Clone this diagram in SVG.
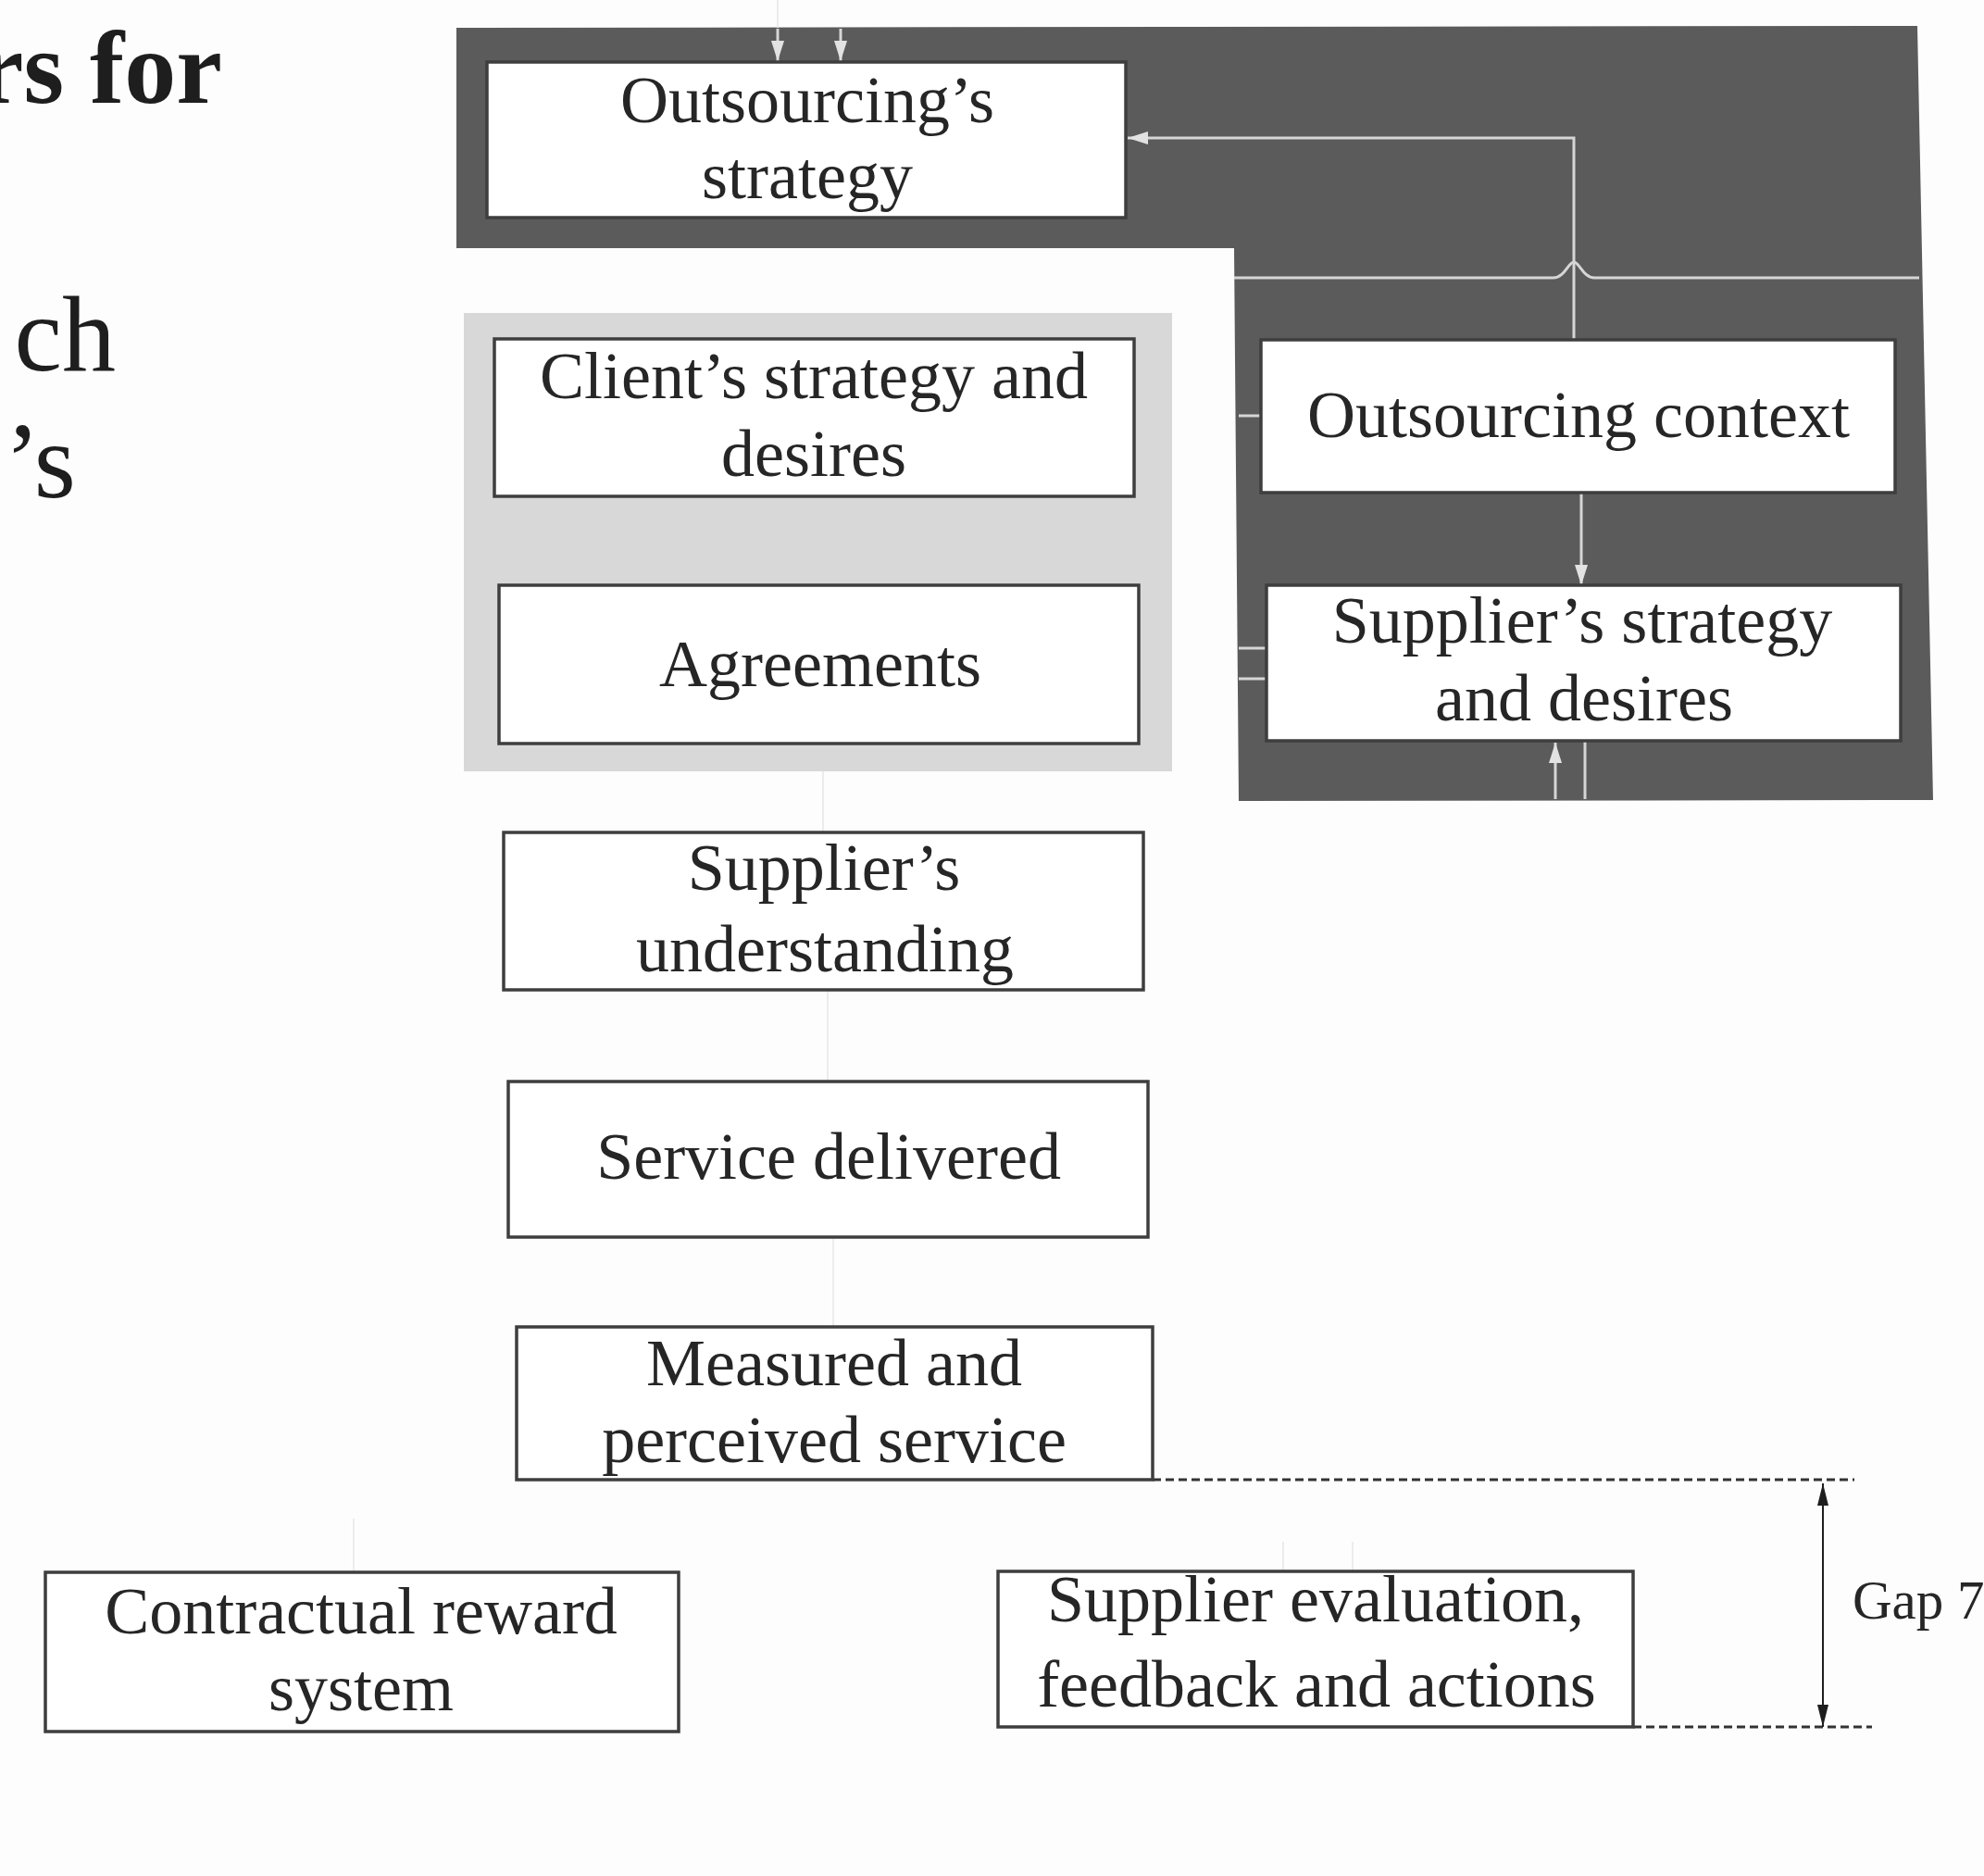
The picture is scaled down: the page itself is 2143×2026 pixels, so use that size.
<svg xmlns="http://www.w3.org/2000/svg" width="2143" height="2026" viewBox="0 0 2143 2026">
<defs>
<style>
.hd{font-family:"Liberation Serif","Times New Roman",serif;fill:#1e1e1e}
.lbl{font-family:"Liberation Serif","Times New Roman",serif;font-size:72px;fill:#262626;text-anchor:middle}
.gap{font-family:"Liberation Serif","Times New Roman",serif;font-size:59px;fill:#262626;text-anchor:start}
.box{fill:#ffffff;stroke:#3e3e3e;stroke-width:3.5}
.wl{fill:none;stroke:#d6d6d6;stroke-width:3}
.fl{fill:none;stroke:#ececec;stroke-width:2}
.dash{fill:none;stroke:#333333;stroke-width:3;stroke-dasharray:9 5}
</style>
<marker id="wa" markerUnits="userSpaceOnUse" markerWidth="24" markerHeight="16" refX="22" refY="8" orient="auto">
<path d="M0,1 L22,8 L0,15 z" fill="#e2e2e2"/>
</marker>
<marker id="ba" markerUnits="userSpaceOnUse" markerWidth="26" markerHeight="16" refX="24" refY="8" orient="auto-start-reverse">
<path d="M0,2 L24,8 L0,14 z" fill="#1e1e1e"/>
</marker>
</defs>
<rect x="0" y="0" width="2143" height="2026" fill="#fdfdfd"/>

<g id="heading">
<text class="hd" x="240" y="111" font-size="112" font-weight="bold" text-anchor="end">rs for</text>
<text class="hd" x="125" y="400" font-size="116" text-anchor="end">ch</text>
<text class="hd" x="82" y="537" font-size="116" text-anchor="end">’s</text>
</g>

<g id="backgrounds">
<polygon id="context-area" points="493,30 2071,28 2088,864 1338,865 1333,268 493,268" fill="#5b5b5b"/>
<rect id="client-area" x="501" y="338" width="765" height="495" fill="#d8d8d8"/>
</g>

<g id="connectors">
<path class="fl" d="M840,0 V30"/>
<path class="wl" d="M840,31 V66" marker-end="url(#wa)"/>
<path class="wl" d="M908,31 V66" marker-end="url(#wa)"/>
<path class="wl" d="M1700,367 V149 H1218" marker-end="url(#wa)"/>
<path class="wl" d="M1333,300 H1678 C1690,300 1694,283 1700,283 C1706,283 1710,300 1722,300 H2073"/>
<path class="wl" d="M1708,532 V632" marker-end="url(#wa)"/>
<path class="wl" d="M1680,863 V802" marker-end="url(#wa)"/>
<path class="wl" d="M1712,800 V863"/>
<path class="wl" d="M1338,449 H1362"/>
<path class="wl" d="M1338,700 H1368"/>
<path class="wl" d="M1338,733 H1368" stroke-width="5"/>
<path class="fl" d="M889,833 V898"/>
<path class="fl" d="M894,1070 V1168"/>
<path class="fl" d="M900,1336 V1432"/>
<path class="fl" d="M382,1640 V1698"/>
<path class="fl" d="M1386,1665 V1697"/>
<path class="fl" d="M1461,1665 V1697"/>
<path class="dash" d="M1245,1598 H2003"/>
<path class="dash" d="M1764,1865 H2022"/>
<path d="M1969,1602 V1865" fill="none" stroke="#1e1e1e" stroke-width="2" marker-start="url(#ba)" marker-end="url(#ba)"/>
<text class="gap" x="2001" y="1748">Gap 7</text>
</g>

<g id="outsourcing-strategy">
<rect class="box" x="526" y="67" width="690" height="168"/>
<text class="lbl" x="872" y="132">Outsourcing’s</text>
<text class="lbl" x="872" y="214">strategy</text>
</g>

<g id="client-strategy">
<rect class="box" x="534" y="366" width="691" height="170"/>
<text class="lbl" x="879" y="430">Client’s strategy and</text>
<text class="lbl" x="879" y="514">desires</text>
</g>

<g id="agreements">
<rect class="box" x="539" y="632" width="691" height="171"/>
<text class="lbl" x="886" y="741">Agreements</text>
</g>

<g id="outsourcing-context">
<rect class="box" x="1362" y="367" width="685" height="165"/>
<text class="lbl" x="1705" y="472">Outsourcing context</text>
</g>

<g id="supplier-strategy">
<rect class="box" x="1368" y="632" width="685" height="168"/>
<text class="lbl" x="1709" y="694">Supplier’s strategy</text>
<text class="lbl" x="1711" y="778">and desires</text>
</g>

<g id="supplier-understanding">
<rect class="box" x="544" y="899" width="691" height="170"/>
<text class="lbl" x="890" y="961">Supplier’s</text>
<text class="lbl" x="891" y="1049">understanding</text>
</g>

<g id="service-delivered">
<rect class="box" x="549" y="1168" width="691" height="168"/>
<text class="lbl" x="895" y="1273">Service delivered</text>
</g>

<g id="measured-service">
<rect class="box" x="558" y="1433" width="687" height="165"/>
<text class="lbl" x="901" y="1496">Measured and</text>
<text class="lbl" x="901" y="1579">perceived service</text>
</g>

<g id="contractual-reward">
<rect class="box" x="49" y="1698" width="684" height="172"/>
<text class="lbl" x="390" y="1764">Contractual reward</text>
<text class="lbl" x="390" y="1847">system</text>
</g>

<g id="supplier-evaluation">
<rect class="box" x="1078" y="1697" width="686" height="168"/>
<text class="lbl" x="1421" y="1751">Supplier evaluation,</text>
<text class="lbl" x="1422" y="1843">feedback and actions</text>
</g>
</svg>
